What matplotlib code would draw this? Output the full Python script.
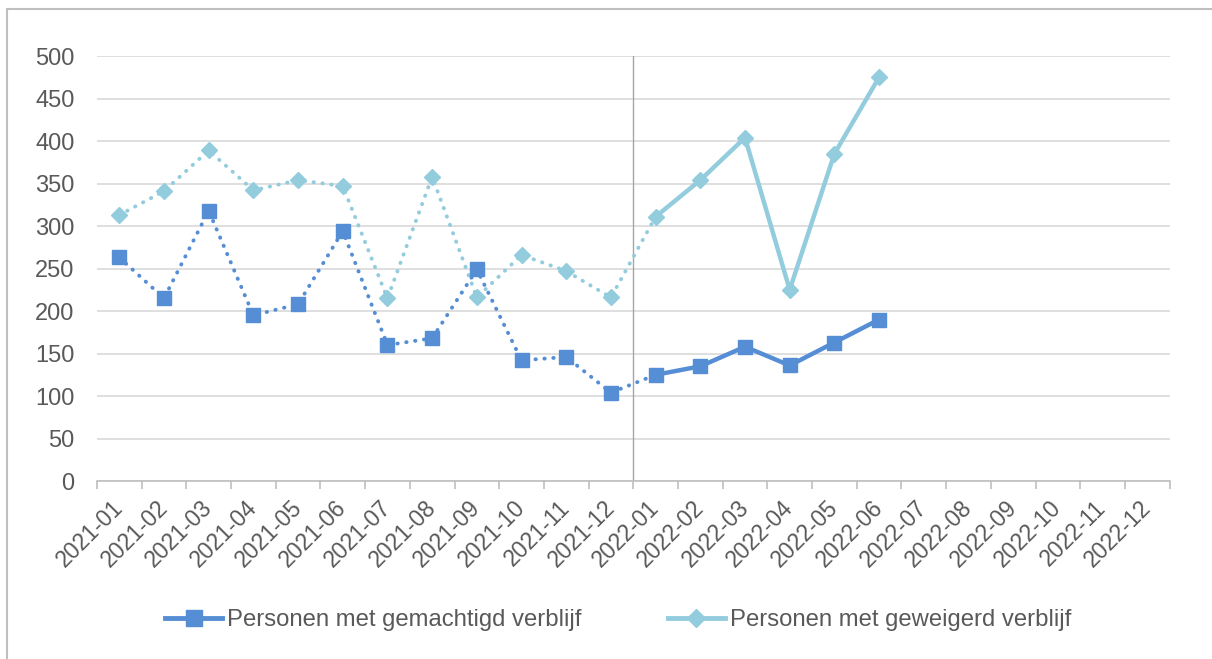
import matplotlib.pyplot as plt
import matplotlib.transforms as mtransforms
from matplotlib.lines import Line2D
from matplotlib.patches import Rectangle

# --- Data ---
maanden = [f"2021-{m:02d}" for m in range(1, 13)] + [f"2022-{m:02d}" for m in range(1, 13)]

gemachtigd = [263, 215, 318, 195, 208, 294, 160, 168, 249, 142, 146, 104,
              125, 135, 158, 136, 163, 190]
geweigerd = [313, 341, 389, 342, 354, 347, 215, 358, 216, 266, 247, 216,
             311, 354, 404, 225, 385, 475]

label_gem = "Personen met gemachtigd verblijf"
label_gew = "Personen met geweigerd verblijf"

kleur_gem = "#558ED5"
kleur_gew = "#93CDDD"
tekst_kleur = "#595959"

plt.rcParams['font.family'] = ['Liberation Sans', 'DejaVu Sans']

fig = plt.figure(figsize=(12.12, 6.59), dpi=100)
ax = fig.add_axes([0.080, 0.270, 0.885, 0.645])

# index where the final (2022) part starts
split = 12
x_all = list(range(len(gemachtigd)))


def teken_reeks(waarden, kleur, marker, ms):
    # dotted part (2021 up to 2022-01)
    ax.plot(x_all[:split + 1], waarden[:split + 1], color=kleur, lw=2.8,
            linestyle=(0, (0.1, 2.2)), dash_capstyle='round', zorder=3)
    # solid part (2022)
    ax.plot(x_all[split:], waarden[split:], color=kleur, lw=3.2,
            solid_capstyle='round', zorder=3)
    ax.plot(x_all, waarden, linestyle='none', marker=marker, ms=ms,
            color=kleur, markeredgecolor=kleur, zorder=4)


teken_reeks(geweigerd, kleur_gew, 'D', 8.5)
teken_reeks(gemachtigd, kleur_gem, 's', 10.5)

# vertical separator between 2021 and 2022
ax.axvline(split - 0.5, color='#A6A6A6', lw=1.0, zorder=2)

# --- Axes ---
ax.set_ylim(0, 500)
ax.set_yticks(range(0, 501, 50))
ax.yaxis.grid(True, color='#D9D9D9', lw=1.2)
ax.set_axisbelow(True)
ax.tick_params(axis='y', length=0, pad=16, labelsize=17, labelcolor=tekst_kleur)

ax.set_xlim(-0.5, len(maanden) - 0.5)
ax.set_xticks([i - 0.5 for i in range(len(maanden) + 1)])
ax.set_xticklabels([])
ax.set_xticks(range(len(maanden)), minor=True)
ax.set_xticklabels(maanden, minor=True, rotation=45, ha='right',
                   rotation_mode='anchor')
ax.tick_params(axis='x', which='major', length=6, color='#BFBFBF', width=1.2)
ax.tick_params(axis='x', which='minor', length=0, pad=11, labelsize=16.5,
               labelcolor=tekst_kleur)

# schuif de maandlabels iets naar links
verschuiving = mtransforms.ScaledTranslation(-8 / 100, 0, fig.dpi_scale_trans)
for lbl in ax.get_xticklabels(minor=True):
    lbl.set_transform(lbl.get_transform() + verschuiving)

for s in ['top', 'right', 'left']:
    ax.spines[s].set_visible(False)
ax.spines['bottom'].set_color('#BFBFBF')
ax.spines['bottom'].set_linewidth(1.2)

# --- Legend ---
handles = [
    Line2D([0], [0], color=kleur_gem, lw=3.5, marker='s', ms=11),
    Line2D([0], [0], color=kleur_gew, lw=3.5, marker='D', ms=9),
]
leg = fig.legend(handles, [label_gem, label_gew], loc='center',
                 bbox_to_anchor=(0.51, 0.059), ncol=2, frameon=False,
                 fontsize=17.2, handlelength=2.4, handletextpad=0.2,
                 columnspacing=3.6)
for t in leg.get_texts():
    t.set_color(tekst_kleur)

# outer chart frame
fig.patches.append(Rectangle((0.006, -0.02), 1.1, 1.006, transform=fig.transFigure,
                             fill=False, edgecolor='#BFBFBF', lw=1.5))

fig.savefig('out.png', dpi=100)
